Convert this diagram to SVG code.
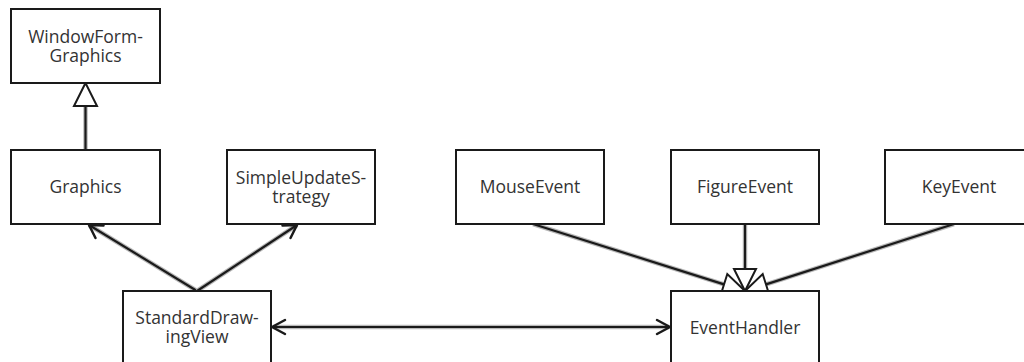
<svg xmlns="http://www.w3.org/2000/svg" width="1024" height="362" viewBox="0 0 1024 362">
<style>
.box{fill:#fff;stroke:#1a1a1a;stroke-width:2}
.t{font-family:"Open Sans","Noto Sans",sans-serif;font-size:17.5px;fill:#333;text-anchor:middle}
.halo{stroke:#b8b8b8;stroke-width:4.5;fill:none}
.ln{stroke:#1a1a1a;stroke-width:2.2;fill:none}
.tri{fill:#fff;stroke:#1a1a1a;stroke-width:2;stroke-linejoin:miter}
.open{fill:none;stroke:#1a1a1a;stroke-width:2.5;stroke-linecap:round;stroke-linejoin:round}
</style>
<rect width="1024" height="362" fill="#fff"/>
<g id="connectors">
  <!-- Graphics -> WindowFormGraphics -->
  <line class="halo" x1="85.5" y1="150" x2="85.5" y2="106"/>
  <line class="ln" x1="85.5" y1="150" x2="85.5" y2="106"/>
  <polygon class="tri" points="85.5,83 74,106 97,106"/>
  <!-- StandardDrawingView -> Graphics -->
  <line class="halo" x1="197" y1="291" x2="89" y2="225"/>
  <line class="ln" x1="197" y1="291" x2="89" y2="225"/>
  <polyline class="open" points="95.5,238 89,225 103.5,225.5"/>
  <!-- StandardDrawingView -> SimpleUpdateStrategy -->
  <line class="halo" x1="197" y1="291" x2="297" y2="225"/>
  <line class="ln" x1="197" y1="291" x2="297" y2="225"/>
  <polyline class="open" points="282.5,225.5 297,225 290.5,238"/>
  <!-- StandardDrawingView <-> EventHandler -->
  <line class="halo" x1="273" y1="327" x2="669" y2="327"/>
  <line class="ln" x1="273" y1="327" x2="669" y2="327"/>
  <polyline class="open" points="285,320 272,327 285,334"/>
  <polyline class="open" points="657,320 670,327 657,334"/>
  <!-- MouseEvent -> EventHandler -->
  <line class="halo" x1="533" y1="224" x2="724" y2="284.4"/>
  <line class="ln" x1="533" y1="224" x2="724" y2="284.4"/>
  <polygon class="tri" points="745,291 727.3,274 720.7,295"/>
  <!-- FigureEvent -> EventHandler -->
  <line class="halo" x1="745" y1="224" x2="745" y2="269"/>
  <line class="ln" x1="745" y1="224" x2="745" y2="269"/>
  <polygon class="tri" points="745,291 734,269 756,269"/>
  <!-- KeyEvent -> EventHandler -->
  <line class="halo" x1="954" y1="224" x2="766" y2="284.4"/>
  <line class="ln" x1="954" y1="224" x2="766" y2="284.4"/>
  <polygon class="tri" points="745,291 762.7,274 769.3,295"/>
</g>
<g id="WindowFormGraphics">
  <rect class="box" x="11" y="9" width="149" height="74"/>
  <text class="t" x="85.5" y="43">WindowForm-</text>
  <text class="t" x="85.5" y="61.5">Graphics</text>
</g>
<g id="Graphics">
  <rect class="box" x="11" y="150" width="149" height="74"/>
  <text class="t" x="85.5" y="193">Graphics</text>
</g>
<g id="SimpleUpdateStrategy">
  <rect class="box" x="227" y="150" width="148" height="74"/>
  <text class="t" x="301" y="184">SimpleUpdateS-</text>
  <text class="t" x="301" y="202.5">trategy</text>
</g>
<g id="StandardDrawingView">
  <rect class="box" x="123" y="291" width="148" height="74"/>
  <text class="t" x="197" y="324">StandardDraw-</text>
  <text class="t" x="197" y="342.5">ingView</text>
</g>
<g id="MouseEvent">
  <rect class="box" x="456" y="150" width="148" height="74"/>
  <text class="t" x="530" y="193">MouseEvent</text>
</g>
<g id="FigureEvent">
  <rect class="box" x="671" y="150" width="148" height="74"/>
  <text class="t" x="745" y="193">FigureEvent</text>
</g>
<g id="KeyEvent">
  <rect class="box" x="885" y="150" width="148" height="74"/>
  <text class="t" x="959" y="193">KeyEvent</text>
</g>
<g id="EventHandler">
  <rect class="box" x="671" y="291" width="148" height="74"/>
  <text class="t" x="745" y="334">EventHandler</text>
</g>
</svg>
